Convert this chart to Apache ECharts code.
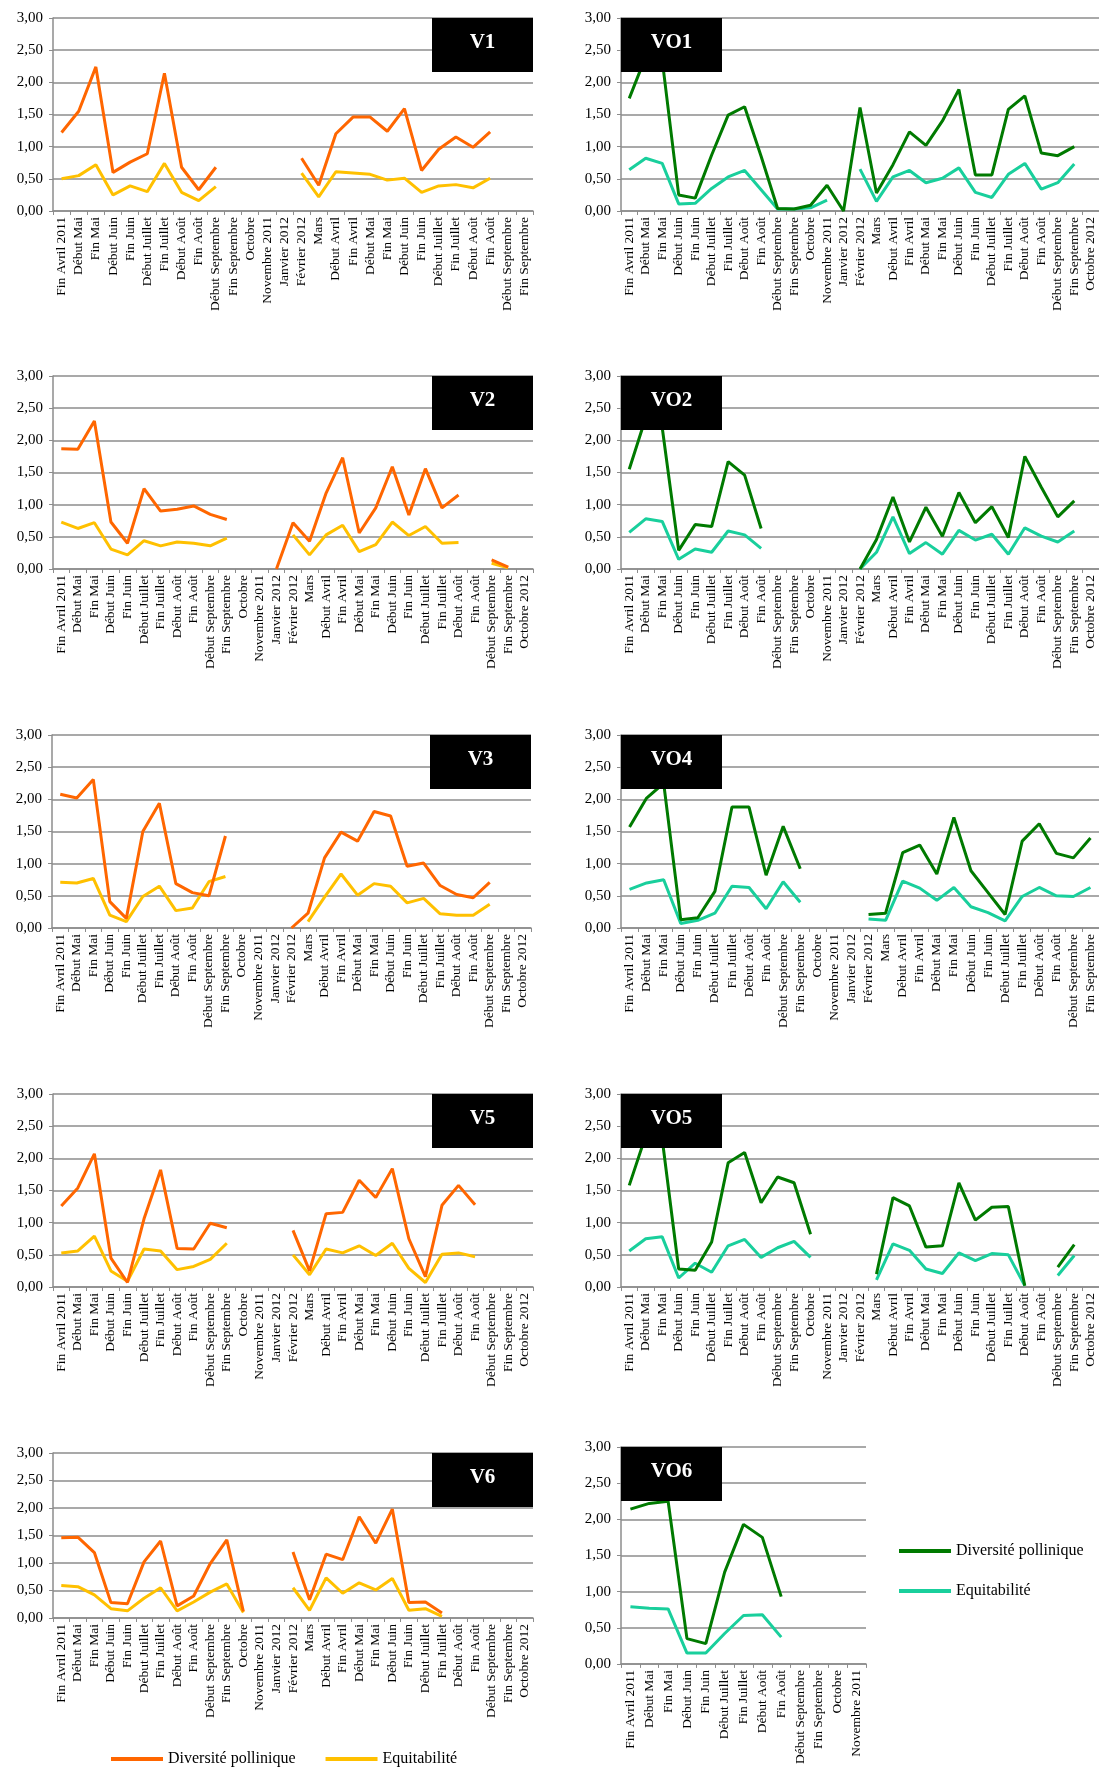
<!DOCTYPE html>
<html>
<head>
<meta charset="utf-8">
<script src="https://cdn.jsdelivr.net/npm/echarts@6/dist/echarts.min.js"></script>
<style>
  html, body { margin: 0; padding: 0; background: #fff; }
  #main { width: 1099px; height: 1767px; }
</style>
</head>
<body>
<div id="main"></div>
<script>
// catégories (trois variantes d'axe)
var catsSep2012 = ['Fin Avril 2011', 'Début Mai', 'Fin Mai', 'Début Juin', 'Fin Juin', 'Début Juillet', 'Fin Juillet',
  'Début Août', 'Fin Août', 'Début Septembre', 'Fin Septembre', 'Octobre', 'Novembre 2011', 'Janvier 2012',
  'Février 2012', 'Mars', 'Début Avril', 'Fin Avril', 'Début Mai', 'Fin Mai', 'Début Juin', 'Fin Juin',
  'Début Juillet', 'Fin Juillet', 'Début Août', 'Fin Août', 'Début Septembre', 'Fin Septembre'];
var catsOct2012 = catsSep2012.concat(['Octobre 2012']);
var catsNov2011 = ['Fin Avril 2011', 'Début Mai', 'Fin Mai', 'Début Juin', 'Fin Juin', 'Début Juillet', 'Fin Juillet',
  'Début Août', 'Fin Août', 'Début Septembre', 'Fin Septembre', 'Octobre', 'Novembre 2011'];

var yTicks = [0, 0.5, 1, 1.5, 2, 2.5, 3];

// valeurs (null = pas de prélèvement)
var v1Div = [1.22, 1.55, 2.24, 0.60, 0.76, 0.89, 2.14, 0.68, 0.33, 0.68, null, null, null, null, 0.82, 0.40, 1.20, 1.46, 1.46, 1.24, 1.59, 0.63, 0.96, 1.15, 0.99, 1.23, null, null];
var v1Equ = [0.50, 0.55, 0.72, 0.25, 0.39, 0.30, 0.74, 0.29, 0.16, 0.38, null, null, null, null, 0.59, 0.22, 0.61, 0.59, 0.57, 0.48, 0.51, 0.29, 0.39, 0.41, 0.36, 0.51, null, null];

var vo1Div = [1.75, 2.40, 2.35, 0.25, 0.20, 0.87, 1.49, 1.62, 0.85, 0.04, 0.03, 0.09, 0.40, 0.00, 1.61, 0.28, 0.72, 1.23, 1.02, 1.40, 1.89, 0.56, 0.56, 1.58, 1.79, 0.90, 0.86, 1.00, null];
var vo1Equ = [0.64, 0.82, 0.74, 0.11, 0.12, 0.35, 0.53, 0.63, 0.33, 0.03, 0.03, 0.05, 0.17, null, 0.65, 0.15, 0.53, 0.63, 0.44, 0.51, 0.67, 0.29, 0.21, 0.57, 0.74, 0.34, 0.44, 0.73, null];

var v2Div = [1.87, 1.86, 2.30, 0.73, 0.40, 1.25, 0.90, 0.93, 0.98, 0.85, 0.77, null, null, 0.00, 0.72, 0.43, 1.18, 1.73, 0.56, 0.95, 1.59, 0.84, 1.56, 0.95, 1.15, null, 0.14, 0.03, null];
var v2Equ = [0.73, 0.63, 0.72, 0.31, 0.22, 0.44, 0.36, 0.42, 0.40, 0.36, 0.48, null, null, null, 0.53, 0.22, 0.53, 0.68, 0.27, 0.38, 0.73, 0.52, 0.66, 0.40, 0.41, null, 0.09, 0.02, null];

var vo2Div = [1.55, 2.35, 2.20, 0.29, 0.69, 0.66, 1.67, 1.46, 0.63, null, null, null, null, null, 0.00, 0.46, 1.12, 0.42, 0.96, 0.51, 1.19, 0.72, 0.97, 0.49, 1.75, 1.27, 0.81, 1.06, null];
var vo2Equ = [0.57, 0.78, 0.74, 0.15, 0.31, 0.26, 0.59, 0.53, 0.32, null, null, null, null, null, 0.00, 0.26, 0.81, 0.24, 0.41, 0.23, 0.60, 0.45, 0.54, 0.23, 0.64, 0.51, 0.42, 0.59, null];

var v3Div = [2.08, 2.02, 2.31, 0.41, 0.15, 1.50, 1.94, 0.69, 0.55, 0.50, 1.43, null, null, null, 0.00, 0.23, 1.09, 1.49, 1.35, 1.81, 1.74, 0.96, 1.01, 0.66, 0.52, 0.47, 0.71, null, null];
var v3Equ = [0.71, 0.70, 0.77, 0.20, 0.10, 0.49, 0.65, 0.27, 0.31, 0.72, 0.80, null, null, null, null, 0.10, 0.48, 0.84, 0.51, 0.69, 0.65, 0.39, 0.46, 0.22, 0.20, 0.20, 0.37, null, null];

var vo4Div = [1.57, 2.02, 2.25, 0.13, 0.16, 0.57, 1.88, 1.88, 0.82, 1.58, 0.92, null, null, null, 0.21, 0.23, 1.17, 1.29, 0.84, 1.72, 0.89, 0.55, 0.21, 1.35, 1.62, 1.16, 1.09, 1.40];
var vo4Equ = [0.60, 0.70, 0.75, 0.07, 0.12, 0.23, 0.65, 0.63, 0.30, 0.72, 0.40, null, null, null, 0.14, 0.12, 0.73, 0.62, 0.43, 0.63, 0.33, 0.24, 0.11, 0.49, 0.63, 0.50, 0.49, 0.63];

var v5Div = [1.26, 1.54, 2.07, 0.45, 0.07, 1.06, 1.82, 0.60, 0.59, 0.99, 0.92, null, null, null, 0.88, 0.25, 1.14, 1.16, 1.66, 1.39, 1.84, 0.75, 0.16, 1.27, 1.58, 1.28, null, null, null];
var v5Equ = [0.53, 0.56, 0.79, 0.25, 0.09, 0.59, 0.56, 0.27, 0.32, 0.43, 0.68, null, null, null, 0.50, 0.19, 0.59, 0.53, 0.64, 0.49, 0.68, 0.29, 0.07, 0.51, 0.53, 0.47, null, null, null];

var vo5Div = [1.58, 2.35, 2.30, 0.28, 0.26, 0.70, 1.93, 2.09, 1.31, 1.71, 1.62, 0.82, null, null, null, 0.20, 1.39, 1.26, 0.62, 0.64, 1.62, 1.04, 1.24, 1.25, 0.02, null, 0.31, 0.66, null];
var vo5Equ = [0.56, 0.75, 0.78, 0.14, 0.37, 0.23, 0.64, 0.74, 0.46, 0.61, 0.71, 0.46, null, null, null, 0.11, 0.67, 0.57, 0.28, 0.21, 0.53, 0.41, 0.52, 0.50, 0.02, null, 0.18, 0.49, null];

var v6Div = [1.46, 1.47, 1.19, 0.28, 0.26, 1.02, 1.40, 0.22, 0.40, 0.99, 1.42, 0.12, null, null, 1.20, 0.33, 1.16, 1.06, 1.84, 1.36, 1.98, 0.28, 0.29, 0.09, null, null, null, null, null];
var v6Equ = [0.59, 0.57, 0.42, 0.17, 0.13, 0.36, 0.55, 0.13, 0.29, 0.47, 0.62, 0.10, null, null, 0.55, 0.14, 0.73, 0.45, 0.64, 0.51, 0.72, 0.14, 0.17, 0.03, null, null, null, null, null];

var vo6Div = [2.14, 2.22, 2.25, 0.35, 0.28, 1.27, 1.93, 1.75, 0.93, null, null, null, null];
var vo6Equ = [0.79, 0.77, 0.76, 0.15, 0.15, 0.42, 0.67, 0.68, 0.37, null, null, null, null];

var FONT = '"Liberation Serif", "Times New Roman", serif';
var GRIDC = '#8c8c8c';
var warm = ['#FF6600', '#FFC000'];
var cold = ['#007A00', '#19CF9C'];

// mise en page des 10 petits graphiques
var panels = [
  { label: 'V1',  cats: catsSep2012, div: v1Div,  equ: v1Equ,  col: warm, box: 'right', g: { left: 53,  top: 18,   width: 480, height: 193 } },
  { label: 'VO1', cats: catsOct2012, div: vo1Div, equ: vo1Equ, col: cold, box: 'left',  g: { left: 621, top: 18,   width: 479, height: 193 } },
  { label: 'V2',  cats: catsOct2012, div: v2Div,  equ: v2Equ,  col: warm, box: 'right', g: { left: 53,  top: 376,  width: 480, height: 193 } },
  { label: 'VO2', cats: catsOct2012, div: vo2Div, equ: vo2Equ, col: cold, box: 'left',  g: { left: 621, top: 376,  width: 479, height: 193 } },
  { label: 'V3',  cats: catsOct2012, div: v3Div,  equ: v3Equ,  col: warm, box: 'right', g: { left: 52,  top: 735,  width: 479, height: 193 } },
  { label: 'VO4', cats: catsSep2012, div: vo4Div, equ: vo4Equ, col: cold, box: 'left',  g: { left: 621, top: 735,  width: 479, height: 193 } },
  { label: 'V5',  cats: catsOct2012, div: v5Div,  equ: v5Equ,  col: warm, box: 'right', g: { left: 53,  top: 1094, width: 480, height: 193 } },
  { label: 'VO5', cats: catsOct2012, div: vo5Div, equ: vo5Equ, col: cold, box: 'left',  g: { left: 621, top: 1094, width: 479, height: 193 } },
  { label: 'V6',  cats: catsOct2012, div: v6Div,  equ: v6Equ,  col: warm, box: 'right', g: { left: 53,  top: 1453, width: 480, height: 165 } },
  { label: 'VO6', cats: catsNov2011, div: vo6Div, equ: vo6Equ, col: cold, box: 'left',  g: { left: 621, top: 1447, width: 245, height: 229 } }
];

var grids = [], xAxes = [], yAxes = [], series = [], graphics = [];

panels.forEach(function (p, i) {
  grids.push(p.g);
  xAxes.push({
    type: 'category',
    gridIndex: i,
    data: p.cats,
    boundaryGap: true,
    axisLine: { lineStyle: { color: GRIDC, width: 1.5 } },
    axisTick: { show: true, length: 4, lineStyle: { color: GRIDC, width: 1 } },
    axisLabel: { interval: 0, rotate: 90, margin: 6, color: '#000', fontFamily: FONT, fontSize: 13.5 }
  });
  yAxes.push({
    type: 'value',
    gridIndex: i,
    min: yTicks[0],
    max: yTicks[yTicks.length - 1],
    interval: 0.5,
    axisLine: { show: true, lineStyle: { color: GRIDC, width: 1.5 } },
    axisTick: { show: true, length: 4, lineStyle: { color: GRIDC } },
    splitLine: { show: true, lineStyle: { color: GRIDC, width: 1.5 } },
    axisLabel: {
      margin: 10, color: '#000', fontFamily: FONT, fontSize: 15,
      formatter: function (v) { return v.toFixed(2).replace('.', ','); }
    }
  });
  series.push({
    name: 'Diversité pollinique', type: 'line', xAxisIndex: i, yAxisIndex: i,
    data: p.div, showSymbol: false, symbol: 'none', z: 3,
    lineStyle: { color: p.col[0], width: 3 }, itemStyle: { color: p.col[0] }
  });
  series.push({
    name: 'Equitabilité', type: 'line', xAxisIndex: i, yAxisIndex: i,
    data: p.equ, showSymbol: false, symbol: 'none', z: 2,
    lineStyle: { color: p.col[1], width: 3 }, itemStyle: { color: p.col[1] }
  });

  // cartouche noir avec le nom de la station (par-dessus les courbes)
  var bx = p.box === 'right' ? p.g.left + p.g.width - 101 : p.g.left;
  graphics.push({
    type: 'rect', left: bx, top: p.g.top, z: 100,
    shape: { width: 101, height: 54 }, style: { fill: '#000' }
  });
  graphics.push({
    type: 'text', z: 101,
    x: bx + 50.5, y: p.g.top + 25,
    style: {
      text: p.label, fill: '#fff', fontFamily: FONT, fontSize: 21, fontWeight: 'bold',
      align: 'center', verticalAlign: 'middle'
    }
  });
});

var option = {
  animation: false,
  backgroundColor: '#fff',
  grid: grids,
  xAxis: xAxes,
  yAxis: yAxes,
  series: series,
  graphic: graphics,
  legend: [
    {
      left: 106, top: 1746, icon: 'rect', itemWidth: 52, itemHeight: 4, itemGap: 30,
      textStyle: { fontFamily: FONT, fontSize: 16, color: '#000' },
      selectedMode: false,
      data: [
        { name: 'Diversité pollinique', itemStyle: { color: warm[0] } },
        { name: 'Equitabilité', itemStyle: { color: warm[1] } }
      ]
    },
    {
      orient: 'vertical', left: 894, top: 1538, icon: 'rect', itemWidth: 52, itemHeight: 4, itemGap: 24,
      textStyle: { fontFamily: FONT, fontSize: 16, color: '#000' },
      selectedMode: false,
      data: [
        { name: 'Diversité pollinique', itemStyle: { color: cold[0] } },
        { name: 'Equitabilité', itemStyle: { color: cold[1] } }
      ]
    }
  ]
};

var chart = echarts.init(document.getElementById('main'), null, { renderer: 'canvas' });
chart.setOption(option);
</script>
</body>
</html>
